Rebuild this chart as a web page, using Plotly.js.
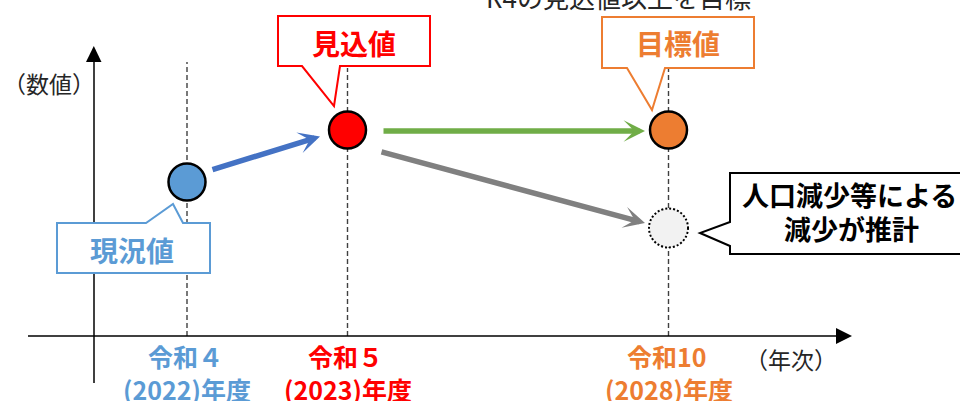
<!DOCTYPE html>
<html>
<head>
<meta charset="utf-8">
<script src="https://cdn.plot.ly/plotly-3.0.1.min.js"></script>
<style>html,body{margin:0;padding:0;background:#fff;}#chart{width:960px;height:401px;}</style>
</head>
<body>
<div id="chart"></div>
<script>
// ---- data ----
const pointNames = ['現況値', '見込値', '目標値'];
const eraLabels = ['令和４', '令和５', '令和10'];
const yearLabels = ['(2022)年度', '(2023)年度', '(2028)年度'];
const slots = [1, 2, 4];
const values = [154, 206, 206];
const estimateValue = 108;
const estimateLabel = ['人口減少等による', '減少が推計'];
const topNote = 'R4の見込値以上を目標';
const yAxisLabel = '（数値）';
const xAxisLabel = '（年次）';

// ---- styles ----
const colors = ['#5B9BD5', '#FF0000', '#ED7D31'];
const FONT = '"Noto Sans CJK JP", "Noto Sans", sans-serif';
const W = 960, H = 401;
const XR = [-0.1651, 5.8162];
const YR = [-65, 336];

function dx2px(x) { return (x - XR[0]) / (XR[1] - XR[0]) * W; }
function dy2py(v) { return (YR[1] - v) / (YR[1] - YR[0]) * H; }
function px2dx(p) { return XR[0] + p / W * (XR[1] - XR[0]); }
function py2dy(p) { return YR[1] - p / H * (YR[1] - YR[0]); }
function pxp(x) { return x / W; }
function pyp(y) { return 1 - y / H; }
function pathP(pts) {
  return 'M' + pts.map(p => pxp(p[0]).toFixed(5) + ',' + pyp(p[1]).toFixed(5)).join('L') + 'Z';
}

const shapes = [];
const annotations = [];

// dashed guide lines
const guideTops = [62, 68, 68];
slots.forEach((s, i) => {
  shapes.push({type: 'line', xref: 'x', yref: 'y', x0: s, x1: s, y0: 0, y1: py2dy(guideTops[i]),
    line: {color: '#404040', width: 1.4, dash: '5px,3px'}, layer: 'below'});
});

// axes
shapes.push({type: 'line', xref: 'paper', yref: 'paper', x0: pxp(94), x1: pxp(94), y0: pyp(383), y1: pyp(60),
  line: {color: '#000', width: 1.5}});
shapes.push({type: 'path', xref: 'paper', yref: 'paper', path: pathP([[86, 62], [101.5, 62], [93.8, 46]]),
  fillcolor: '#000', line: {width: 0}});
shapes.push({type: 'line', xref: 'paper', yref: 'paper', x0: pxp(28), x1: pxp(838), y0: pyp(336), y1: pyp(336),
  line: {color: '#000', width: 1.5}});
shapes.push({type: 'path', xref: 'paper', yref: 'paper', path: pathP([[836, 328], [836, 344], [852, 336]]),
  fillcolor: '#000', line: {width: 0}});

// estimate circle (dotted)
shapes.push({type: 'circle', xref: 'x', yref: 'y', xsizemode: 'pixel', ysizemode: 'pixel',
  xanchor: slots[2], yanchor: estimateValue, x0: -19.5, x1: 19.5, y0: -19.5, y1: 19.5,
  fillcolor: '#F2F2F2', line: {color: '#000', width: 2, dash: '2px,2px'}});

// callouts
const callouts = [
  {pts: [[278, 16], [430, 16], [430, 66], [340, 66], [334, 106], [302, 66], [278, 66]], color: colors[1]},
  {pts: [[602, 17], [754, 17], [754, 68], [665, 68], [652, 110], [627, 68], [602, 68]], color: colors[2]},
  {pts: [[57, 223], [146, 223], [173, 204], [183, 223], [210, 223], [210, 273], [57, 273]], color: colors[0]},
  {pts: [[730, 173], [970, 173], [970, 254], [730, 254], [730, 246], [700, 233], [730, 222]], color: '#000'}
];
callouts.forEach(c => shapes.push({type: 'path', xref: 'paper', yref: 'paper', path: pathP(c.pts),
  fillcolor: '#fff', line: {color: c.color, width: 2}}));

// arrows (tail/tip offsets in pixels from the points they connect)
const P = slots.map((s, i) => [dx2px(s), dy2py(values[i])]);
const E = [dx2px(slots[2]), dy2py(estimateValue)];
const arrows = [
  {from: P[0], fo: [24, -12], to: P[1], to_: [-27.5, 6.5], color: '#4472C4'},
  {from: P[1], fo: [34.5, 1], to: P[2], to_: [-23.5, 1], color: '#70AD47'},
  {from: P[1], fo: [32.5, 21.5], to: E, to_: [-23.5, -5], color: '#808080'}
];
arrows.forEach(a => {
  annotations.push({xref: 'x', yref: 'y', axref: 'x', ayref: 'y',
    x: px2dx(a.to[0] + a.to_[0]), y: py2dy(a.to[1] + a.to_[1]),
    ax: px2dx(a.from[0] + a.fo[0]), ay: py2dy(a.from[1] + a.fo[1]),
    text: '', showarrow: true, arrowhead: 3, arrowsize: 0.65, arrowwidth: 5.5,
    arrowcolor: a.color, standoff: 0, startstandoff: 0});
});

function txt(x, y, text, size, color, bold, xref) {
  annotations.push({xref: xref || 'paper', yref: 'paper', x: xref ? x : pxp(x), y: pyp(y),
    xanchor: 'center', yanchor: 'middle', showarrow: false, borderpad: 0,
    text: bold ? '<b>' + text + '</b>' : text,
    font: {family: FONT, size: size, color: color}});
}

// callout texts
txt(354, 43, pointNames[1], 28, colors[1], true);
txt(678, 43, pointNames[2], 28, colors[2], true);
txt(132, 250, pointNames[0], 28, colors[0], true);
txt(849, 194, estimateLabel[0], 27, '#000', true);
txt(851, 229, estimateLabel[1], 27, '#000', true);

// tick labels
slots.forEach((s, i) => {
  txt(s - 0.01, 356, eraLabels[i], 25, colors[i], true, 'x');
  txt(s, 389, yearLabels[i], 25, colors[i], true, 'x');
});

// axis labels and note
txt(49, 83, yAxisLabel, 23, '#262626', false);
txt(791, 359, xAxisLabel, 23, '#262626', false);
txt(618, -3, topNote, 26, '#262626', false);

const trace = {
  type: 'scatter', mode: 'markers', x: slots, y: values, text: pointNames, hoverinfo: 'text',
  cliponaxis: false,
  marker: {size: 37, color: colors, line: {color: '#000', width: 2.5}}
};

Plotly.newPlot('chart', [trace], {
  width: W, height: H, margin: {l: 0, r: 0, t: 0, b: 0, pad: 0},
  paper_bgcolor: '#fff', plot_bgcolor: '#fff', showlegend: false,
  xaxis: {visible: false, range: XR, fixedrange: true},
  yaxis: {visible: false, range: YR, fixedrange: true},
  shapes: shapes, annotations: annotations
}, {staticPlot: true});
</script>
</body>
</html>
